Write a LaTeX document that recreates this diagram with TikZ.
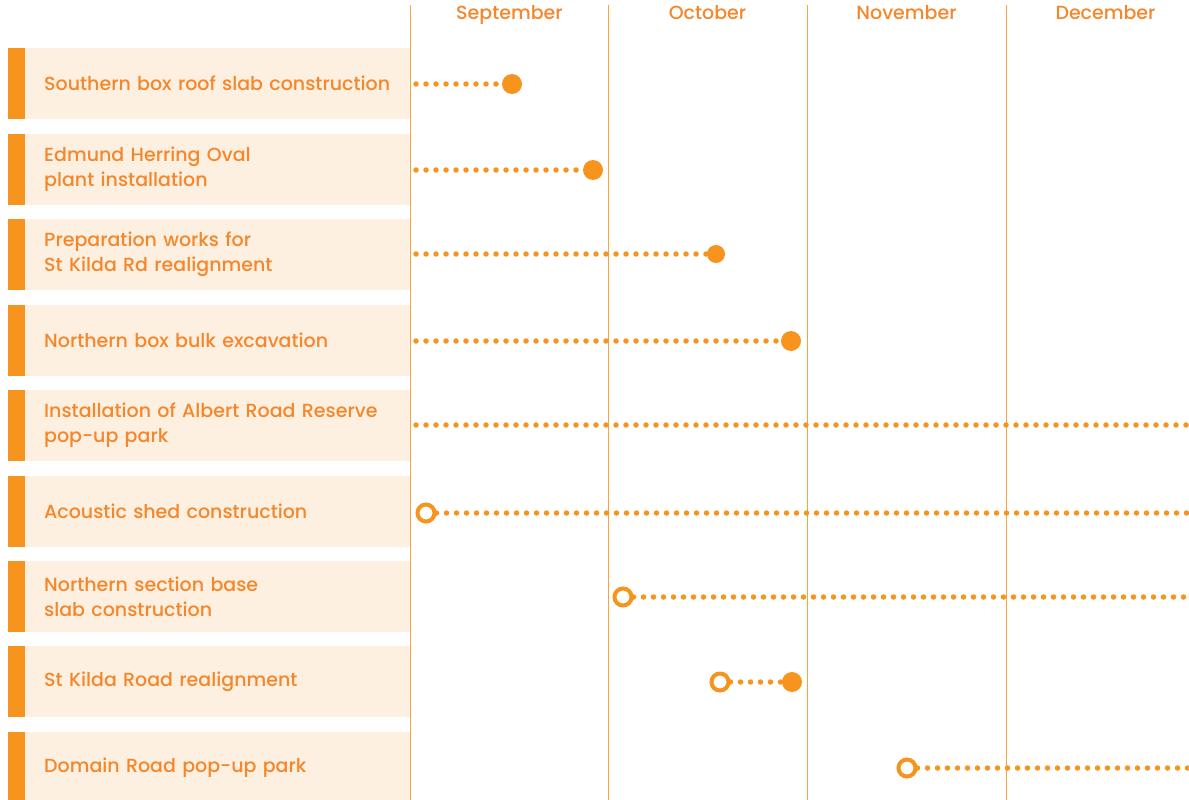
\documentclass[tikz,border=0pt]{standalone}
\usepackage{fontspec}
\setmainfont{Poppins}[UprightFont=* Medium]
\usetikzlibrary{positioning}

\definecolor{tlorange}{HTML}{F7941D}
\definecolor{tltext}{HTML}{F5862A}
\definecolor{tlfill}{HTML}{FDF0E1}

\tikzset{
  task/.style={anchor=west, fill=tlfill, minimum width=385pt, minimum height=71pt, inner xsep=19pt, inner ysep=0pt, text width=347pt, align=left, text=tltext, font=\fontsize{19}{25}\selectfont},
  tab/.style={fill=tlorange, minimum width=17pt, minimum height=71pt, inner sep=0pt},
  month/.style={anchor=base, text=tltext, font=\fontsize{19}{20}\selectfont},
  monthline/.style={tlorange!85, line width=1pt},
  done/.style={circle, fill=tlorange, minimum size=20pt, inner sep=0pt},
  startpt/.style={circle, draw=tlorange, line width=4pt, fill=white, minimum size=17pt, inner sep=0pt},
  dots/.style={tlorange, line width=5.5pt, line cap=round, dash pattern=on 0pt off 10pt},
}

\begin{document}
\begin{tikzpicture}[x=1pt, y=-1pt]
            \clip (0, 0) rectangle (1189, 800);
            % task boxes with their orange tabs
            \node[task] (roof) at (25, 83.5) {Southern box roof slab construction};
            \node[task] (oval) at (25, 169.5) {Edmund Herring Oval\\plant installation};
            \node[task] (prep) at (25, 254.5) {Preparation works for\\St Kilda Rd realignment};
            \node[task] (bulk) at (25, 340.5) {Northern box bulk excavation};
            \node[task] (albert) at (25, 425.5) {Installation of Albert Road Reserve\\pop-up park};
            \node[task] (shed) at (25, 511.5) {Acoustic shed construction};
            \node[task] (base) at (25, 596.5) {Northern section base\\slab construction};
            \node[task] (realign) at (25, 681.5) {St Kilda Road realignment};
            \node[task] (domain) at (25, 767.5) {Domain Road pop-up park};
            \foreach \t in {roof, oval, prep, bulk, albert, shed, base, realign, domain}
                \node[tab, left=0pt of \t] (\t-tab) {};
            % month columns
            \foreach \x/\m in {410/September, 608/October, 807/November, 1006/December} {
                \draw[monthline] (\x, 5) -- (\x, 800);
                \node[month] (m-\m) at (\x + 99.5, 20) {\m};
            }
            % milestones
            \node[done] (roof-end) at (512, 84) {};
            \node[done] (oval-end) at (593, 170) {};
            \node[done, minimum size=18pt] (prep-end) at (716, 254) {};
            \node[done] (bulk-end) at (791, 341) {};
            \node[startpt] (shed-start) at (426, 513) {};
            \node[startpt] (base-start) at (623, 597) {};
            \node[startpt] (realign-start) at (720, 682) {};
            \node[done] (realign-end) at (792, 682) {};
            \node[startpt] (domain-start) at (907, 768) {};
            \coordinate (roof-start) at (416, 84);
            \coordinate (oval-start) at (416, 170);
            \coordinate (prep-start) at (416, 254);
            \coordinate (bulk-start) at (416, 341);
            \coordinate (albert-start) at (416, 425);
            \coordinate (albert-end) at (1195, 425);
            \coordinate (shed-end) at (1195, 513);
            \coordinate (base-end) at (1195, 597);
            \coordinate (domain-end) at (1195, 768);
            % dotted bars
            \foreach \t in {roof, oval, prep, bulk, albert, shed, base, realign, domain}
                \draw[dots] (\t-start) -- (\t-end);
        \end{tikzpicture}
\end{document}
